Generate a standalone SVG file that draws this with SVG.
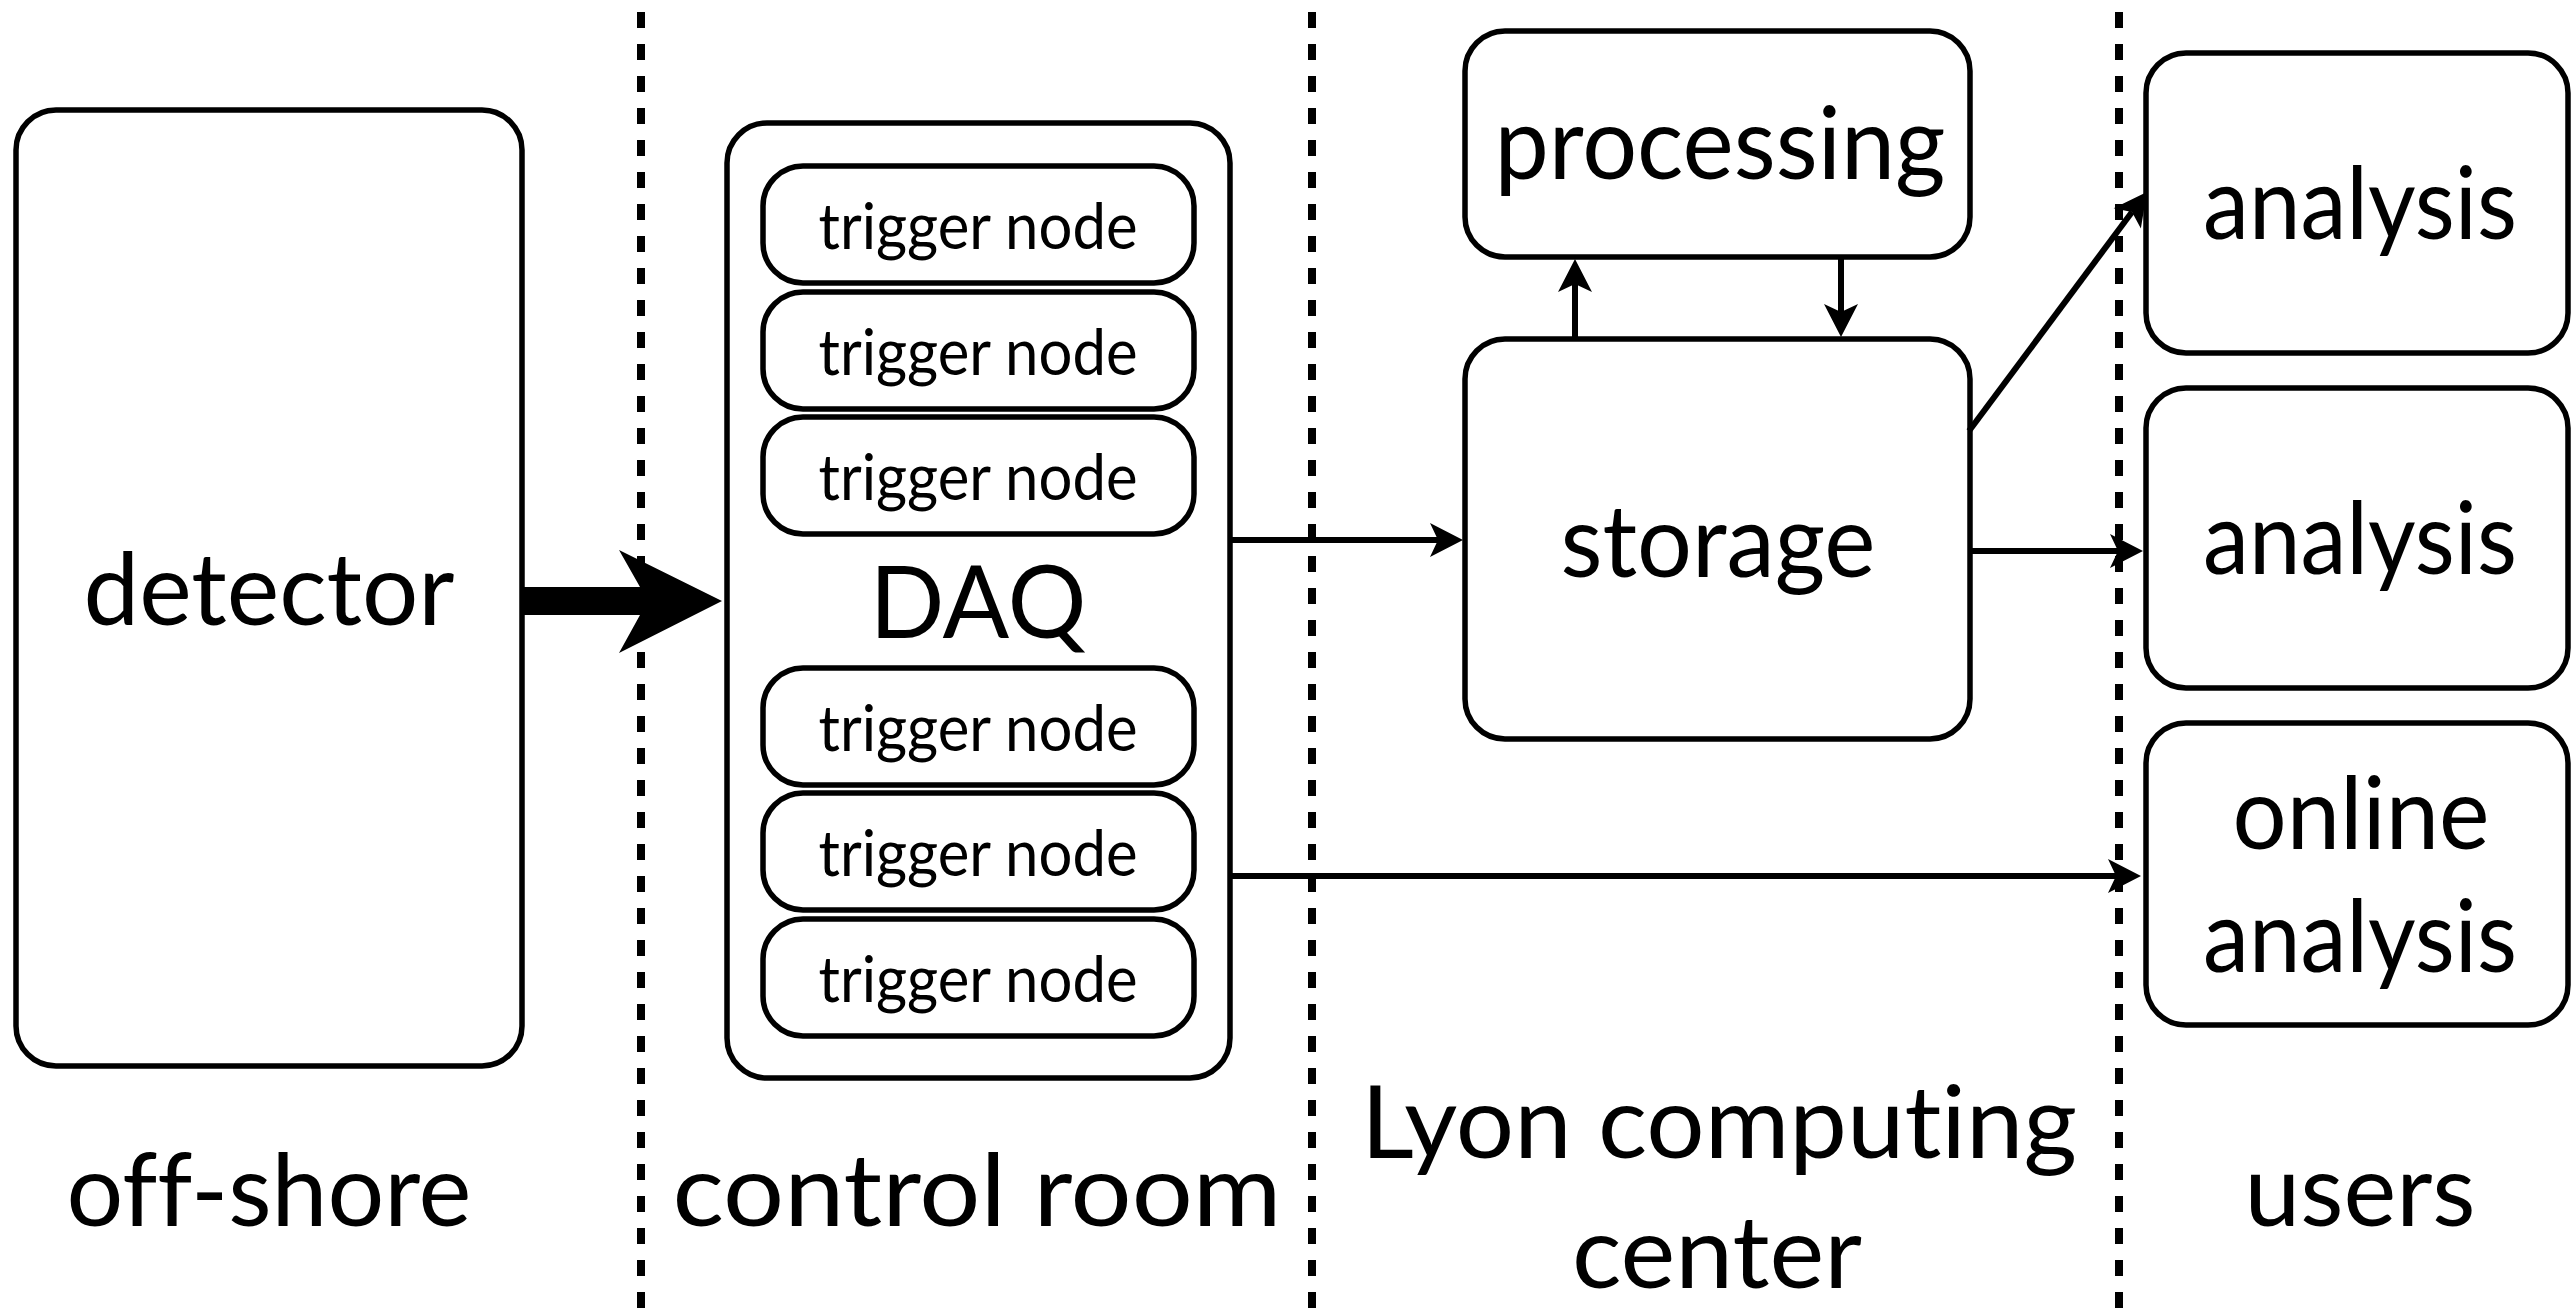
<svg xmlns="http://www.w3.org/2000/svg" width="2572" height="1308" viewBox="0 0 2572 1308">
<style>
.box{fill:#fff;stroke:#000;stroke-width:5.5}
.t{font-family:Lato,"Liberation Sans",sans-serif;font-size:100px;fill:#000;text-anchor:middle;font-variant-ligatures:none;font-feature-settings:"liga" 0}
.ts{font-size:64px}
.conn{stroke:#000;stroke-width:6;fill:none}
.sep{stroke:#000;stroke-width:8;stroke-dasharray:16 16;stroke-dashoffset:20}
</style>
<defs>
<marker id="ah" markerUnits="userSpaceOnUse" viewBox="-10 -19 37 38" markerWidth="37" markerHeight="38" refX="0" refY="0" orient="auto">
<path d="M25,0 L-8,-17 L0,0 L-8,17 Z" fill="#000"/>
</marker>
</defs>
<rect width="2572" height="1308" fill="#fff"/>
<g id="separators">
<line class="sep" x1="641" y1="0" x2="641" y2="1308"/>
<line class="sep" x1="1312" y1="0" x2="1312" y2="1308"/>
<line class="sep" x1="2119" y1="0" x2="2119" y2="1308"/>
</g>
<g id="detector">
<rect class="box" x="16" y="110" width="506" height="956" rx="40"/>
<text class="t" x="269" y="625" textLength="371" lengthAdjust="spacingAndGlyphs">detector</text>
</g>
<g id="daq">
<rect class="box" x="727" y="123" width="503" height="955" rx="40"/>
<text class="t" x="978" y="638" textLength="217" lengthAdjust="spacingAndGlyphs">DAQ</text>
<g id="tn1"><rect class="box" x="763" y="166" width="431" height="117" rx="40"/><text class="t ts" x="978" y="249" textLength="319" lengthAdjust="spacingAndGlyphs">trigger node</text></g>
<g id="tn2"><rect class="box" x="763" y="292" width="431" height="117" rx="40"/><text class="t ts" x="978" y="375" textLength="319" lengthAdjust="spacingAndGlyphs">trigger node</text></g>
<g id="tn3"><rect class="box" x="763" y="417" width="431" height="117" rx="40"/><text class="t ts" x="978" y="500" textLength="319" lengthAdjust="spacingAndGlyphs">trigger node</text></g>
<g id="tn4"><rect class="box" x="763" y="668" width="431" height="117" rx="40"/><text class="t ts" x="978" y="751" textLength="319" lengthAdjust="spacingAndGlyphs">trigger node</text></g>
<g id="tn5"><rect class="box" x="763" y="793" width="431" height="117" rx="40"/><text class="t ts" x="978" y="876" textLength="319" lengthAdjust="spacingAndGlyphs">trigger node</text></g>
<g id="tn6"><rect class="box" x="763" y="919" width="431" height="117" rx="40"/><text class="t ts" x="978" y="1002" textLength="319" lengthAdjust="spacingAndGlyphs">trigger node</text></g>
</g>
<g id="processing">
<rect class="box" x="1465" y="31" width="505" height="226" rx="40"/>
<text class="t" x="1720" y="179" textLength="451" lengthAdjust="spacingAndGlyphs">processing</text>
</g>
<g id="storage">
<rect class="box" x="1465" y="339" width="505" height="400" rx="40"/>
<text class="t" x="1718" y="577" textLength="315" lengthAdjust="spacingAndGlyphs">storage</text>
</g>
<g id="analysis1">
<rect class="box" x="2146" y="53" width="422" height="300" rx="40"/>
<text class="t" x="2360" y="239" textLength="314" lengthAdjust="spacingAndGlyphs">analysis</text>
</g>
<g id="analysis2">
<rect class="box" x="2146" y="388" width="422" height="300" rx="40"/>
<text class="t" x="2360" y="574" textLength="314" lengthAdjust="spacingAndGlyphs">analysis</text>
</g>
<g id="online">
<rect class="box" x="2146" y="723" width="422" height="302" rx="40"/>
<text class="t" x="2361" y="849" textLength="257" lengthAdjust="spacingAndGlyphs">online</text>
<text class="t" x="2360" y="972" textLength="314" lengthAdjust="spacingAndGlyphs">analysis</text>
</g>
<g id="connectors">
<polygon points="522,587 640,587 619,550 722,601 619,653 640,615 522,615" fill="#000"/>
<line class="conn" x1="1230" y1="540" x2="1438" y2="540" marker-end="url(#ah)"/>
<line class="conn" x1="1575" y1="339" x2="1575" y2="284" marker-end="url(#ah)"/>
<line class="conn" x1="1841" y1="257" x2="1841" y2="312" marker-end="url(#ah)"/>
<line class="conn" x1="1969" y1="431" x2="2132" y2="212" marker-end="url(#ah)"/>
<line class="conn" x1="1969" y1="551" x2="2118" y2="551" marker-end="url(#ah)"/>
<line class="conn" x1="1230" y1="876" x2="2116" y2="876" marker-end="url(#ah)"/>
</g>
<g id="labels">
<text class="t" x="269" y="1226" textLength="405" lengthAdjust="spacingAndGlyphs">off-shore</text>
<text class="t" x="977" y="1226" textLength="609" lengthAdjust="spacingAndGlyphs">control room</text>
<text class="t" x="1719" y="1158" textLength="716" lengthAdjust="spacingAndGlyphs">Lyon computing</text>
<text class="t" x="1717" y="1288" textLength="290" lengthAdjust="spacingAndGlyphs">center</text>
<text class="t" x="2360" y="1226" textLength="231" lengthAdjust="spacingAndGlyphs">users</text>
</g>
</svg>
